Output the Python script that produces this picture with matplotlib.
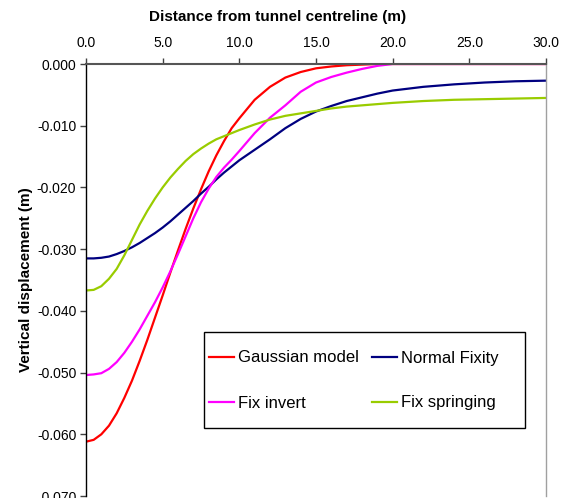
import matplotlib
matplotlib.use('Agg')
import matplotlib.pyplot as plt
from matplotlib.ticker import FormatStrFormatter, MultipleLocator
from matplotlib.patches import Rectangle

plt.rcParams['font.family'] = ['Liberation Sans', 'DejaVu Sans']
plt.rcParams['axes.unicode_minus'] = False

# distance from centreline (m)
distance = [0, 0.5, 1, 1.5, 2, 2.5, 3, 3.5, 4, 4.5, 5, 5.5, 6, 6.5, 7, 7.5, 8, 8.5, 9, 9.5,
            10, 11, 12, 13, 14, 15, 16, 17, 18, 19, 20, 22, 24, 26, 28, 30]

# vertical displacement (m)
gaussian = [-0.0612, -0.0609, -0.0600, -0.0586, -0.0566, -0.0541, -0.0513, -0.0481,
            -0.0447, -0.0411, -0.0375, -0.0338, -0.0302, -0.0267, -0.0234, -0.0203,
            -0.0174, -0.0148, -0.0125, -0.0104, -0.0088,
            -0.0058, -0.0037, -0.0022, -0.0013, -0.0007, -0.0004, -0.0002, -0.0001,
            0.0, 0.0, 0.0, 0.0, 0.0, 0.0, 0.0]
normal_fixity = [-0.0315, -0.0315, -0.0314, -0.0312, -0.0308, -0.0303, -0.0297, -0.0290,
                 -0.0282, -0.0274, -0.0265, -0.0255, -0.0244, -0.0233, -0.0222, -0.0210,
                 -0.0199, -0.0187, -0.0176, -0.0166, -0.0156,
                 -0.0139, -0.0122, -0.0104, -0.0089, -0.0077, -0.0068, -0.0060, -0.0054,
                 -0.0048, -0.0043, -0.0037, -0.0033, -0.0030, -0.0028, -0.0027]
fix_invert = [-0.0504, -0.0503, -0.0501, -0.0494, -0.0483, -0.0468, -0.0450, -0.0430,
              -0.0408, -0.0386, -0.0362, -0.0336, -0.0308, -0.0279, -0.0250, -0.0224,
              -0.0202, -0.0183, -0.0168, -0.0155, -0.0141,
              -0.0112, -0.0087, -0.0067, -0.0045, -0.0030, -0.0021, -0.0014, -0.0008,
              -0.0003, 0.0, 0.0, 0.0, 0.0, 0.0, 0.0]
fix_springing = [-0.0367, -0.0366, -0.0360, -0.0348, -0.0332, -0.0310, -0.0285, -0.0260,
                 -0.0238, -0.0218, -0.0200, -0.0184, -0.0170, -0.0157, -0.0146, -0.0137,
                 -0.0129, -0.0122, -0.0117, -0.0112, -0.0107,
                 -0.0098, -0.0090, -0.0084, -0.0080, -0.0076, -0.0072, -0.0069, -0.0067,
                 -0.0065, -0.0063, -0.0060, -0.0058, -0.0057, -0.0056, -0.0055]

W, H = 575, 498
fig = plt.figure(figsize=(W / 100, H / 100), dpi=100)
ax = fig.add_axes([86 / W, 1 - 496 / H, 460 / W, 432 / H])

l1, = ax.plot(distance, gaussian, color='#FF0000', lw=1.6, label='Gaussian model')
l2, = ax.plot(distance, normal_fixity, color='#000080', lw=1.6, label='Normal Fixity')
l3, = ax.plot(distance, fix_invert, color='#FF00FF', lw=1.6, label='Fix invert')
l4, = ax.plot(distance, fix_springing, color='#99CC00', lw=1.6, label='Fix springing')

ax.set_xlim(0, 30)
ax.set_ylim(-0.070, 0.0)
ax.xaxis.set_major_locator(MultipleLocator(5))
ax.yaxis.set_major_locator(MultipleLocator(0.01))
ax.xaxis.set_major_formatter(FormatStrFormatter('%.1f'))
ax.yaxis.set_major_formatter(FormatStrFormatter('%.3f'))
ax.xaxis.tick_top()
ax.tick_params(axis='x', direction='out', length=4, width=1, color='#404040',
               labelsize=10, pad=6)
ax.tick_params(axis='y', direction='out', length=4, width=1, color='#404040',
               labelsize=10, pad=3)

ax.spines['top'].set_color('#555555')
ax.spines['top'].set_linewidth(1.5)
ax.spines['left'].set_color('#000000')
ax.spines['left'].set_linewidth(1)
ax.spines['right'].set_color('#A0A0A0')
ax.spines['right'].set_linewidth(1)
ax.spines['bottom'].set_visible(False)

fig.text(278 / W, 1 - 17 / H, 'Distance from tunnel centreline (m)',
         ha='center', va='center', fontsize=11, fontweight='bold')
ax.set_ylabel('Vertical displacement (m)', fontsize=11, fontweight='bold', labelpad=3)

# legend box (Excel-style, uneven padding)
fig.patches.append(Rectangle((204 / W, 1 - 428 / H), 321 / W, 96 / H,
                             transform=fig.transFigure, fill=True, facecolor='white',
                             edgecolor='black', lw=1, zorder=5))
leg = fig.legend([l1, l3, l2, l4], ['Gaussian model', 'Fix invert', 'Normal Fixity',
                                    'Fix springing'],
                 ncol=2, loc='center', bbox_to_anchor=(354 / W, 1 - 380.5 / H),
                 frameon=False, fontsize=12, handlelength=1.5, handletextpad=0.25,
                 columnspacing=0.8, labelspacing=1.8, borderpad=0)
leg.set_zorder(6)

fig.savefig('out.png', dpi=100)
